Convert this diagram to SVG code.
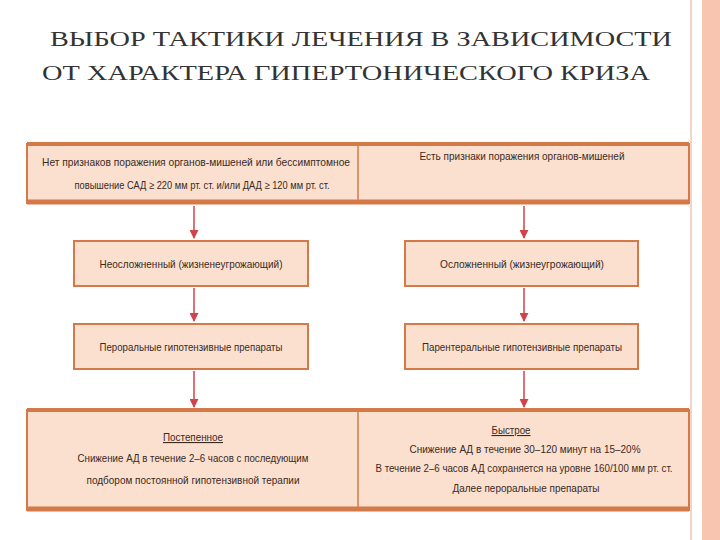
<svg xmlns="http://www.w3.org/2000/svg" width="720" height="540" viewBox="0 0 720 540">
<defs>
<style>
.b{fill:#fbe0cf;stroke:#d47a48;stroke-width:2}
.t{font-family:"Liberation Sans",sans-serif;font-size:11px;fill:#3a2a22;text-anchor:middle}
.h{font-family:"Liberation Serif",serif;font-size:22px;fill:#333}
.c{stroke:#d0434a;stroke-width:1.5;fill:none}
</style>
<marker id="a" viewBox="0 0 10 10" refX="9" refY="5" markerWidth="6" markerHeight="6" orient="auto"><path d="M0,0L10,5L0,10z" fill="#d0434a"/></marker>
</defs>
<rect width="720" height="540" fill="#fff"/>
<rect x="702" y="0" width="18" height="540" fill="#f8c5b0"/>
<line x1="691" y1="0" x2="691" y2="540" stroke="#f3d5c8" stroke-width="2"/>
<text class="h" x="50" y="46" textLength="622" lengthAdjust="spacingAndGlyphs">ВЫБОР ТАКТИКИ ЛЕЧЕНИЯ В ЗАВИСИМОСТИ</text>
<text class="h" x="42" y="80" textLength="608" lengthAdjust="spacingAndGlyphs">ОТ ХАРАКТЕРА ГИПЕРТОНИЧЕСКОГО КРИЗА</text>
<g id="top">
<rect class="b" x="27" y="144" width="662" height="59"/>
<line x1="27" y1="144" x2="689" y2="144" stroke="#d47a48" stroke-width="4"/>
<line x1="27" y1="202" x2="689" y2="202" stroke="#d47a48" stroke-width="5"/>
<line x1="358" y1="144" x2="358" y2="202" stroke="#d47a48" stroke-width="1.5"/>
<text class="t" x="196" y="166" textLength="308" lengthAdjust="spacingAndGlyphs">Нет признаков поражения органов-мишеней или бессимптомное</text>
<text class="t" x="202" y="189" textLength="255" lengthAdjust="spacingAndGlyphs">повышение САД ≥ 220 мм рт. ст. и/или ДАД ≥ 120 мм рт. ст.</text>
<text class="t" x="522" y="160" textLength="205" lengthAdjust="spacingAndGlyphs">Есть признаки поражения органов-мишеней</text>
</g>
<g id="n1"><rect class="b" x="74" y="241" width="234" height="45" stroke-width="3"/><text class="t" x="191" y="268" textLength="183" lengthAdjust="spacingAndGlyphs">Неосложненный (жизненеугрожающий)</text></g>
<g id="n2"><rect class="b" x="405" y="241" width="233" height="45" stroke-width="3"/><text class="t" x="522" y="268" textLength="164" lengthAdjust="spacingAndGlyphs">Осложненный (жизнеугрожающий)</text></g>
<g id="n3"><rect class="b" x="74" y="324" width="234" height="45" stroke-width="3"/><text class="t" x="191" y="351" textLength="183" lengthAdjust="spacingAndGlyphs">Пероральные гипотензивные препараты</text></g>
<g id="n4"><rect class="b" x="405" y="324" width="233" height="45" stroke-width="3"/><text class="t" x="522" y="351" textLength="200" lengthAdjust="spacingAndGlyphs">Парентеральные гипотензивные препараты</text></g>
<g id="bottom">
<rect class="b" x="27" y="410" width="662" height="100"/>
<line x1="27" y1="410" x2="689" y2="410" stroke="#d47a48" stroke-width="4"/>
<line x1="27" y1="509" x2="689" y2="509" stroke="#d47a48" stroke-width="5"/>
<line x1="358" y1="410" x2="358" y2="509" stroke="#d47a48" stroke-width="1.5"/>
<text class="t" x="193" y="441" text-decoration="underline" textLength="60" lengthAdjust="spacingAndGlyphs">Постепенное</text>
<text class="t" x="193" y="462" textLength="231" lengthAdjust="spacingAndGlyphs">Снижение АД в течение 2–6 часов с последующим</text>
<text class="t" x="193" y="484" textLength="213" lengthAdjust="spacingAndGlyphs">подбором постоянной гипотензивной терапии</text>
<text class="t" x="511" y="434" text-decoration="underline" textLength="39" lengthAdjust="spacingAndGlyphs">Быстрое</text>
<text class="t" x="525" y="453" textLength="231" lengthAdjust="spacingAndGlyphs">Снижение АД в течение 30–120 минут на 15–20%</text>
<text class="t" x="524" y="472" textLength="297" lengthAdjust="spacingAndGlyphs">В течение 2–6 часов АД сохраняется на уровне 160/100 мм рт. ст.</text>
<text class="t" x="526" y="492" textLength="147" lengthAdjust="spacingAndGlyphs">Далее пероральные препараты</text>
</g>
<g id="connectors">
<line class="c" x1="194" y1="206" x2="194" y2="238" marker-end="url(#a)"/>
<line class="c" x1="524" y1="206" x2="524" y2="238" marker-end="url(#a)"/>
<line class="c" x1="194" y1="288" x2="194" y2="321" marker-end="url(#a)"/>
<line class="c" x1="524" y1="288" x2="524" y2="321" marker-end="url(#a)"/>
<line class="c" x1="194" y1="371" x2="194" y2="407" marker-end="url(#a)"/>
<line class="c" x1="524" y1="371" x2="524" y2="407" marker-end="url(#a)"/>
</g>
</svg>
